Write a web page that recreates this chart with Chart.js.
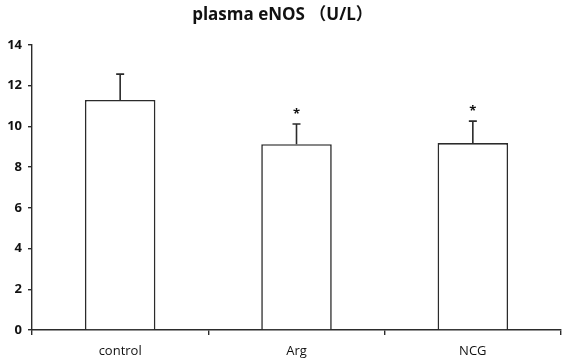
<!DOCTYPE html>
<html>
<head>
<meta charset="utf-8">
<script src="https://cdn.jsdelivr.net/npm/chart.js@4"></script>
<style>
  html, body { margin: 0; padding: 0; background: #fff; }
  #wrap { width: 565px; height: 362px; position: relative; }
</style>
</head>
<body>
<div id="wrap"><canvas id="chart"></canvas></div>
<script>
// ─── Data ────────────────────────────────────────────────────────
const groups  = ['control', 'Arg', 'NCG'];
const means   = [11.3, 9.13, 9.18];
const errors  = [1.27, 0.99, 1.08];   // upper SD
const marks   = ['', '*', '*'];
const yTicks  = [0, 2, 4, 6, 8, 10, 12, 14];
const titleText = 'plasma eNOS （U/L）';

const ink = '#2b2b2b';
const fontFam = "'Open Sans', 'Noto Sans CJK SC', sans-serif";

// ─── Error bars, asterisks and title ─────────────────────────────
const extras = {
  id: 'extras',
  afterDatasetsDraw(chart) {
    const { ctx, scales: { x, y } } = chart;
    ctx.save();
    ctx.strokeStyle = ink;
    ctx.fillStyle = ink;
    ctx.lineWidth = 1.6;
    means.forEach((m, i) => {
      const cx = x.getPixelForValue(i);
      const yTop = y.getPixelForValue(m);
      const yErr = y.getPixelForValue(m + errors[i]);
      ctx.beginPath();
      ctx.moveTo(cx, yTop);
      ctx.lineTo(cx, yErr);
      ctx.moveTo(cx - 4, yErr);
      ctx.lineTo(cx + 4, yErr);
      ctx.stroke();
      if (marks[i]) {
        ctx.font = "bold 13px " + fontFam;
        ctx.textAlign = 'center';
        ctx.textBaseline = 'alphabetic';
        ctx.fillStyle = '#111';
        ctx.fillText(marks[i], cx, yErr - 6);
      }
    });
    // title
    ctx.font = "bold 17px " + fontFam;
    ctx.textAlign = 'center';
    ctx.textBaseline = 'middle';
    ctx.fillStyle = '#111';
    ctx.fillText(titleText, chart.width / 2, 15);
    ctx.restore();
  }
};

new Chart(document.getElementById('chart'), {
  type: 'bar',
  data: {
    labels: groups,
    datasets: [{
      data: means,
      backgroundColor: '#ffffff',
      borderColor: ink,
      borderWidth: 1.6,
      borderSkipped: 'bottom',
      barPercentage: 0.4,
      categoryPercentage: 1.0
    }]
  },
  options: {
    responsive: true,
    maintainAspectRatio: false,
    animation: false,
    layout: { padding: { top: 45, right: 4, left: 0, bottom: 0 } },
    plugins: {
      legend: { display: false },
      tooltip: { enabled: false },
      title: { display: false }
    },
    scales: {
      x: {
        grid: {
          display: true,
          drawOnChartArea: false,
          drawTicks: true,
          tickLength: 5,
          color: ink,
          lineWidth: 1.4,
          offset: true
        },
        border: { display: true, color: ink, width: 1.4 },
        ticks: {
          color: '#111',
          font: { family: fontFam, size: 13 },
          padding: 8
        },
        afterFit(scale) { scale.height = 32; }
      },
      y: {
        min: 0,
        max: 14,
        afterBuildTicks(scale) { scale.ticks = yTicks.map(v => ({ value: v })); },
        grid: {
          display: true,
          drawOnChartArea: false,
          drawTicks: true,
          tickLength: 4,
          color: ink,
          lineWidth: 1.4
        },
        border: { display: true, color: ink, width: 1.4 },
        ticks: {
          color: '#111',
          font: { family: fontFam, size: 13, weight: 'bold' },
          padding: 6
        },
        afterFit(scale) { scale.width = 32; }
      }
    }
  },
  plugins: [extras]
});
</script>
</body>
</html>
